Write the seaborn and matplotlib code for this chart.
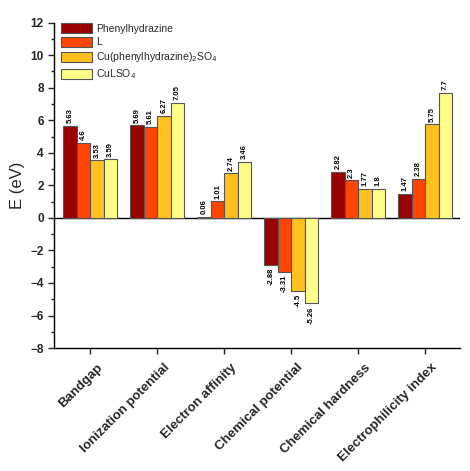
import matplotlib
matplotlib.use("Agg")
import matplotlib.pyplot as plt
import seaborn as sns
import pandas as pd
from matplotlib.ticker import MultipleLocator
import matplotlib.transforms as mtransforms

categories = ["Bandgap", "Ionization potential", "Electron affinity",
              "Chemical potential", "Chemical hardness", "Electrophilicity index"]
series_names = ["Phenylhydrazine", "L", "Cu(phenylhydrazine)$_2$SO$_4$", "CuLSO$_4$"]
phenylhydrazine = [5.63, 5.69, 0.06, -2.88, 2.82, 1.47]
ligand_L = [4.6, 5.61, 1.01, -3.31, 2.3, 2.38]
cu_ph_so4 = [3.53, 6.27, 2.74, -4.5, 1.77, 5.75]
cu_l_so4 = [3.59, 7.05, 3.46, -5.26, 1.8, 7.7]
colors = ["#990000", "#FF4500", "#FFC020", "#FFFF88"]

rows = []
for name, vals in zip(series_names, [phenylhydrazine, ligand_L, cu_ph_so4, cu_l_so4]):
    for c, v in zip(categories, vals):
        rows.append({"cat": c, "series": name, "E": v})
df = pd.DataFrame(rows)

sns.set_style("ticks")
plt.rcParams["font.family"] = ["Liberation Sans", "DejaVu Sans"]

fig = plt.figure(figsize=(4.7, 4.71), dpi=100)
ax = fig.add_axes([0.115, 0.261, 0.864, 0.691])
sns.barplot(data=df, x="cat", y="E", hue="series", palette=colors,
            order=categories, hue_order=series_names, width=0.8,
            edgecolor="#555555", linewidth=0.8, ax=ax, errorbar=None, saturation=1)

for cont in ax.containers:
    ax.bar_label(cont, fmt="{:g}", rotation=90, padding=2, fontsize=5.5,
                 fontweight="bold", color="black")

ax.axhline(0, color="black", lw=1, zorder=0.5)
ax.set_ylim(-8, 12)
ax.set_xlim(-0.54, 5.52)
ax.yaxis.set_major_locator(MultipleLocator(2))
ax.yaxis.set_minor_locator(MultipleLocator(1))
ax.tick_params(axis="y", which="major", length=4, width=1, labelsize=8.5, direction="out")
ax.tick_params(axis="y", which="minor", length=2, width=1, direction="out")
ax.tick_params(axis="x", length=4, width=1, direction="out")
for lbl in ax.get_yticklabels():
    lbl.set_fontweight("bold")
ax.set_xticks(range(len(categories)))
ax.set_xticklabels(categories, rotation=45, ha="right", rotation_mode="anchor",
                   fontsize=9.5, fontweight="bold")
offset = mtransforms.ScaledTranslation(6 / 100, -3 / 100, fig.dpi_scale_trans)
for lbl in ax.get_xticklabels():
    lbl.set_transform(lbl.get_transform() + offset)
ax.set_xlabel("")
ax.set_ylabel("E (eV)", fontsize=12, labelpad=4)
for s in ["top", "right"]:
    ax.spines[s].set_visible(False)
for s in ["left", "bottom"]:
    ax.spines[s].set_linewidth(1)
    ax.spines[s].set_color("black")

leg = ax.legend(loc="upper left", bbox_to_anchor=(0.0, 1.02), frameon=False,
                fontsize=7.5, handlelength=2.9, handleheight=1.05,
                labelspacing=0.3, handletextpad=0.4, borderaxespad=0.3)

fig.savefig("out.png", dpi=100)
